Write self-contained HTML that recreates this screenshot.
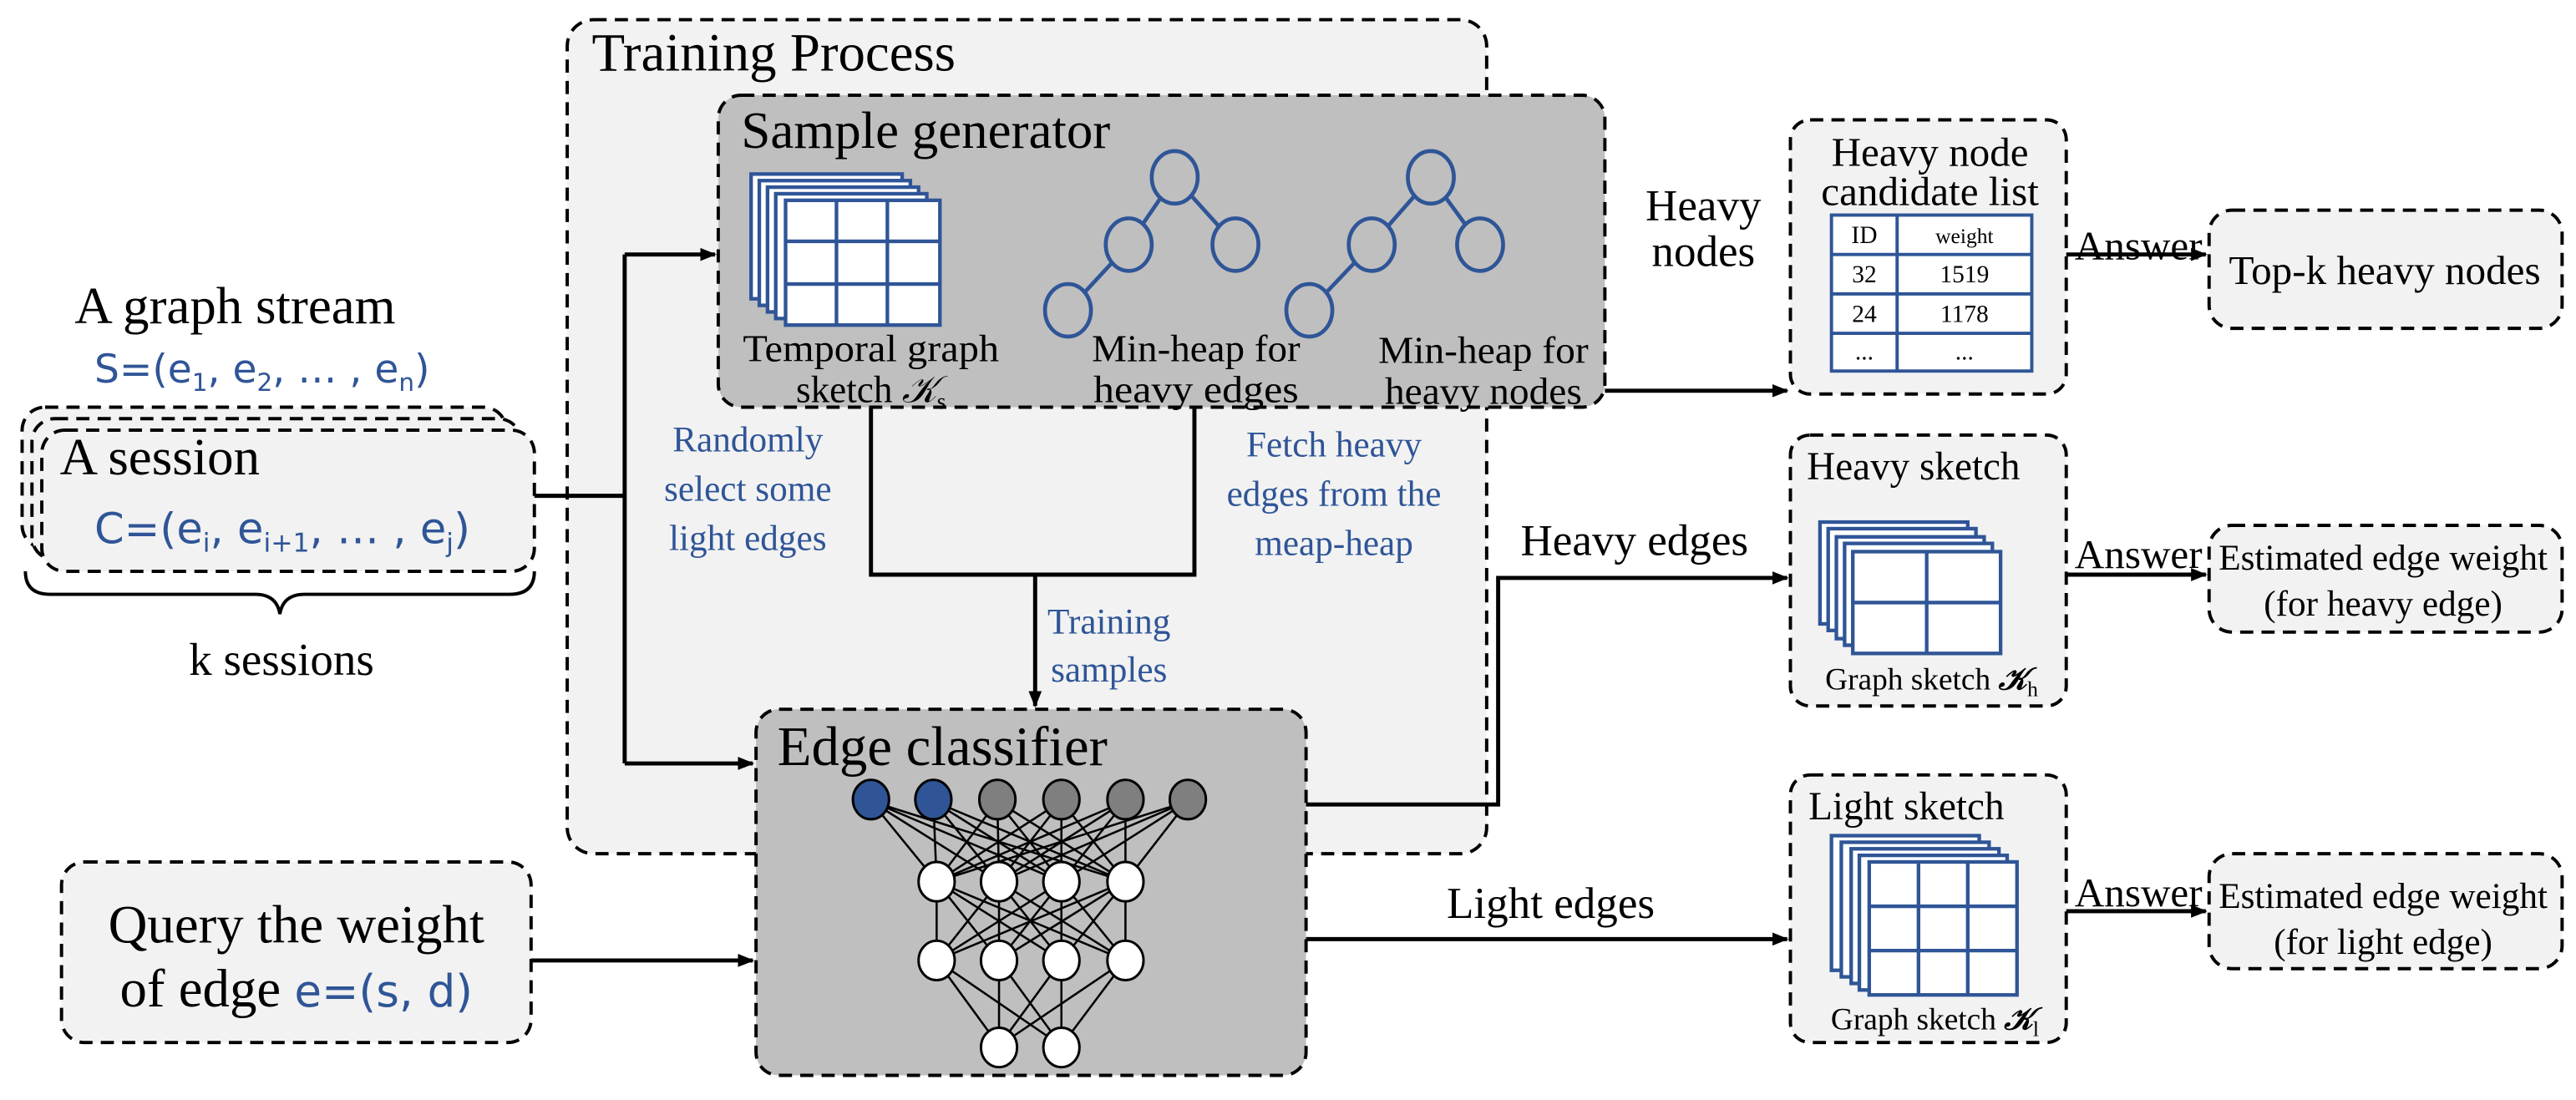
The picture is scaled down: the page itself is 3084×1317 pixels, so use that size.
<!DOCTYPE html>
<html><head><meta charset="utf-8"><style>
html,body{margin:0;padding:0;background:#fff;}
svg{display:block;}
text{font-family:"Liberation Serif",serif;}
.b{fill:#2f5597;}
.s{font-family:"DejaVu Sans","Liberation Sans",sans-serif;fill:#2f5597;}
</style></head><body>
<svg width="3084" height="1317" viewBox="0 0 1568 670" xmlns="http://www.w3.org/2000/svg">
<defs>
<marker id="ar" markerWidth="10" markerHeight="10" refX="9" refY="5" orient="auto" markerUnits="userSpaceOnUse">
<path d="M0,1 L10,5 L0,9 z" fill="#000"/></marker>
</defs>
<g stroke="#000" stroke-width="2" stroke-dasharray="8,5">
<rect x="345" y="12" width="560" height="508" rx="16" fill="#f2f2f2"/>
<rect x="437" y="58" width="540" height="190" rx="14" fill="#bfbfbf"/>
<rect x="460" y="432" width="335" height="223" rx="14" fill="#bfbfbf"/>
<rect x="1090" y="73" width="168" height="167" rx="12" fill="#f2f2f2"/>
<rect x="1345" y="128" width="215" height="72" rx="14" fill="#f2f2f2"/>
<rect x="1090" y="265" width="168" height="165" rx="12" fill="#f2f2f2"/>
<rect x="1345" y="320" width="215" height="65" rx="14" fill="#f2f2f2"/>
<rect x="1090" y="472" width="168" height="163" rx="12" fill="#f2f2f2"/>
<rect x="1345" y="520" width="215" height="70" rx="14" fill="#f2f2f2"/>
<rect x="13" y="248" width="295" height="86" rx="14" fill="#f2f2f2"/>
<rect x="19" y="255" width="298" height="86" rx="14" fill="#f2f2f2"/>
<rect x="25" y="262" width="300" height="86" rx="14" fill="#f2f2f2"/>
<rect x="37" y="525" width="286" height="110" rx="14" fill="#f2f2f2"/>
</g>
<text x="360" y="43" font-size="33">Training Process</text>
<text x="451" y="90" font-size="32">Sample generator</text>
<text x="473" y="466" font-size="34">Edge classifier</text>
<text x="45" y="197" font-size="32">A graph stream</text>
<text x="57" y="233" font-size="24" class="s">S=(e<tspan font-size="15" dy="5">1</tspan><tspan dy="-5">, e</tspan><tspan font-size="15" dy="5">2</tspan><tspan dy="-5">, … , e</tspan><tspan font-size="15" dy="5">n</tspan><tspan dy="-5">)</tspan></text>
<text x="36" y="289" font-size="32">A session</text>
<text x="57" y="331" font-size="26" class="s">C=(e<tspan font-size="16" dy="5">i</tspan><tspan dy="-5">, e</tspan><tspan font-size="16" dy="5">i+1</tspan><tspan dy="-5">, … , e</tspan><tspan font-size="16" dy="5">j</tspan><tspan dy="-5">)</tspan></text>
<path d="M15,348 Q15,362 30,362 L155,362 Q168,362 170,374 Q172,362 185,362 L310,362 Q325,362 325,348" fill="none" stroke="#000" stroke-width="2"/>
<text x="171" y="411" font-size="28" text-anchor="middle">k sessions</text>
<text x="180" y="574" font-size="33" text-anchor="middle">Query the weight</text>
<text x="180" y="613" font-size="33" text-anchor="middle">of edge <tspan class="s" font-size="27">e=(s, d)</tspan></text>
<!-- connectors -->
<g stroke="#000" stroke-width="2.5" fill="none">
<path d="M325,302 H380"/>
<path d="M380,155 V465"/>
<path d="M380,155 H435" marker-end="url(#ar)"/>
<path d="M380,465 H458" marker-end="url(#ar)"/>
<path d="M323,585 H458" marker-end="url(#ar)"/>
<path d="M530,248 V350 H727 V248"/>
<path d="M630,350 V430" marker-end="url(#ar)"/>
<path d="M977,238 H1088" marker-end="url(#ar)"/>
<path d="M1258,155 H1343" marker-end="url(#ar)"/>
<path d="M795,490 H912 V352 H1088" marker-end="url(#ar)"/>
<path d="M795,572 H1088" marker-end="url(#ar)"/>
<path d="M1258,350 H1343" marker-end="url(#ar)"/>
<path d="M1258,555 H1343" marker-end="url(#ar)"/>
</g>
<text x="455" y="275" font-size="22" class="b" text-anchor="middle">Randomly</text>
<text x="455" y="305" font-size="22" class="b" text-anchor="middle">select some</text>
<text x="455" y="335" font-size="22" class="b" text-anchor="middle">light edges</text>
<text x="812" y="278" font-size="22" class="b" text-anchor="middle">Fetch heavy</text>
<text x="812" y="308" font-size="22" class="b" text-anchor="middle">edges from the</text>
<text x="812" y="338" font-size="22" class="b" text-anchor="middle">meap-heap</text>
<text x="675" y="386" font-size="22" class="b" text-anchor="middle">Training</text>
<text x="675" y="415" font-size="22" class="b" text-anchor="middle">samples</text>
<text x="1037" y="134" font-size="27" text-anchor="middle">Heavy</text>
<text x="1037" y="162" font-size="27" text-anchor="middle">nodes</text>
<text x="995" y="338" font-size="27" text-anchor="middle">Heavy edges</text>
<text x="944" y="559" font-size="27" text-anchor="middle">Light edges</text>
<text x="1302" y="158" font-size="25" text-anchor="middle">Answer</text>
<text x="1302" y="346" font-size="25" text-anchor="middle">Answer</text>
<text x="1302" y="552" font-size="25" text-anchor="middle">Answer</text>
<text x="1452" y="173" font-size="25" text-anchor="middle">Top-k heavy nodes</text>
<text x="1451" y="347" font-size="22" text-anchor="middle">Estimated edge weight</text>
<text x="1451" y="375" font-size="22" text-anchor="middle">(for heavy edge)</text>
<text x="1451" y="553" font-size="22" text-anchor="middle">Estimated edge weight</text>
<text x="1451" y="581" font-size="22" text-anchor="middle">(for light edge)</text>
<text x="1175" y="101" font-size="25" text-anchor="middle">Heavy node</text>
<text x="1175" y="125" font-size="25" text-anchor="middle">candidate list</text>
<!-- table -->
<g stroke="#2f5597" stroke-width="2" fill="#fff">
<rect x="1115" y="131" width="122" height="95"/>
<path d="M1115,155 H1237 M1115,179 H1237 M1115,203 H1237 M1155,131 V226" fill="none"/>
</g>
<g font-size="15" text-anchor="middle">
<text x="1135" y="148">ID</text><text x="1196" y="148" font-size="13">weight</text>
<text x="1135" y="172">32</text><text x="1196" y="172">1519</text>
<text x="1135" y="196">24</text><text x="1196" y="196">1178</text>
<text x="1135" y="219">...</text><text x="1196" y="219">...</text>
</g>
<text x="1100" y="292" font-size="24">Heavy sketch</text>
<text x="1176" y="420" font-size="19" text-anchor="middle">Graph sketch <tspan font-style="italic" font-weight="bold">𝒦</tspan><tspan font-size="13" dy="4">h</tspan></text>
<text x="1101" y="499" font-size="24">Light sketch</text>
<text x="1178" y="627" font-size="19" text-anchor="middle">Graph sketch <tspan font-style="italic" font-weight="bold">𝒦</tspan><tspan font-size="13" dy="4">l</tspan></text>
<text x="530" y="220" font-size="23" text-anchor="middle" textLength="156" lengthAdjust="spacingAndGlyphs">Temporal graph</text>
<text x="530" y="245" font-size="23" text-anchor="middle">sketch <tspan font-style="italic">𝒦</tspan><tspan font-size="14" dy="4">s</tspan></text>
<text x="728" y="220" font-size="23" text-anchor="middle" textLength="127" lengthAdjust="spacingAndGlyphs">Min-heap for</text>
<text x="728" y="245" font-size="23" text-anchor="middle" textLength="125" lengthAdjust="spacingAndGlyphs">heavy edges</text>
<text x="903" y="221" font-size="23" text-anchor="middle" textLength="128" lengthAdjust="spacingAndGlyphs">Min-heap for</text>
<text x="903" y="246" font-size="23" text-anchor="middle" textLength="120" lengthAdjust="spacingAndGlyphs">heavy nodes</text>
<!-- sketch stacks -->
<g stroke="#2f5597" stroke-width="2.2" fill="#fff">
<rect x="457" y="106" width="92" height="76"/>
<rect x="462" y="110" width="92" height="76"/>
<rect x="467" y="114" width="92" height="76"/>
<rect x="472" y="118" width="92" height="76"/>
<rect x="478" y="122" width="94" height="76"/>
<path d="M509,122 V198 M540,122 V198 M478,147 H572 M478,173 H572" fill="none"/>
<rect x="1108" y="318" width="90" height="62"/>
<rect x="1113" y="322" width="90" height="62"/>
<rect x="1118" y="327" width="90" height="62"/>
<rect x="1123" y="331" width="90" height="62"/>
<rect x="1128" y="336" width="90" height="62"/>
<path d="M1173,336 V398 M1128,367 H1218" fill="none"/>
<rect x="1115" y="509" width="90" height="82"/>
<rect x="1121" y="513" width="90" height="82"/>
<rect x="1127" y="517" width="90" height="82"/>
<rect x="1132" y="521" width="90" height="82"/>
<rect x="1138" y="525" width="90" height="81"/>
<path d="M1168,525 V606 M1198,525 V606 M1138,552 H1228 M1138,579 H1228" fill="none"/>
</g>
<!-- heaps -->
<g stroke="#2f5597" stroke-width="2.4" fill="#bfbfbf">
<path d="M715,108 L687,149 M715,108 L752,149 M687,149 L650,189 M871,108 L835,149 M871,108 L901,149 M835,149 L797,189" fill="none"/>
<ellipse cx="715" cy="108" rx="14" ry="16"/>
<ellipse cx="687" cy="149" rx="14" ry="16"/>
<ellipse cx="752" cy="149" rx="14" ry="16"/>
<ellipse cx="650" cy="189" rx="14" ry="16"/>
<ellipse cx="871" cy="108" rx="14" ry="16"/>
<ellipse cx="835" cy="149" rx="14" ry="16"/>
<ellipse cx="901" cy="149" rx="14" ry="16"/>
<ellipse cx="797" cy="189" rx="14" ry="16"/>
</g>
<!-- neural net -->
<g stroke="#000" stroke-width="1.3">
<path d="M530,488 L570,537 M530,488 L608,537 M530,488 L646,537 M530,488 L685,537
M568,488 L570,537 M568,488 L608,537 M568,488 L646,537 M568,488 L685,537
M607,488 L570,537 M607,488 L608,537 M607,488 L646,537 M607,488 L685,537
M646,488 L570,537 M646,488 L608,537 M646,488 L646,537 M646,488 L685,537
M685,488 L570,537 M685,488 L608,537 M685,488 L646,537 M685,488 L685,537
M723,488 L570,537 M723,488 L608,537 M723,488 L646,537 M723,488 L685,537
M570,537 L570,585 M570,537 L608,585 M570,537 L646,585 M570,537 L685,585
M608,537 L570,585 M608,537 L608,585 M608,537 L646,585 M608,537 L685,585
M646,537 L570,585 M646,537 L608,585 M646,537 L646,585 M646,537 L685,585
M685,537 L570,585 M685,537 L608,585 M685,537 L646,585 M685,537 L685,585
M570,585 L608,637 M570,585 L646,637 M608,585 L608,637 M608,585 L646,637
M646,585 L608,637 M646,585 L646,637 M685,585 L608,637 M685,585 L646,637"/>
</g>
<g stroke="#000" stroke-width="1.5">
<ellipse cx="530" cy="487" rx="11" ry="12" fill="#2f5597"/>
<ellipse cx="568" cy="487" rx="11" ry="12" fill="#2f5597"/>
<ellipse cx="607" cy="487" rx="11" ry="12" fill="#7f7f7f"/>
<ellipse cx="646" cy="487" rx="11" ry="12" fill="#7f7f7f"/>
<ellipse cx="685" cy="487" rx="11" ry="12" fill="#7f7f7f"/>
<ellipse cx="723" cy="487" rx="11" ry="12" fill="#7f7f7f"/>
<g fill="#fff">
<ellipse cx="570" cy="537" rx="11" ry="12"/><ellipse cx="608" cy="537" rx="11" ry="12"/>
<ellipse cx="646" cy="537" rx="11" ry="12"/><ellipse cx="685" cy="537" rx="11" ry="12"/>
<ellipse cx="570" cy="585" rx="11" ry="12"/><ellipse cx="608" cy="585" rx="11" ry="12"/>
<ellipse cx="646" cy="585" rx="11" ry="12"/><ellipse cx="685" cy="585" rx="11" ry="12"/>
<ellipse cx="608" cy="638" rx="11" ry="12"/><ellipse cx="646" cy="638" rx="11" ry="12"/>
</g>
</g>
</svg>
</body></html>
